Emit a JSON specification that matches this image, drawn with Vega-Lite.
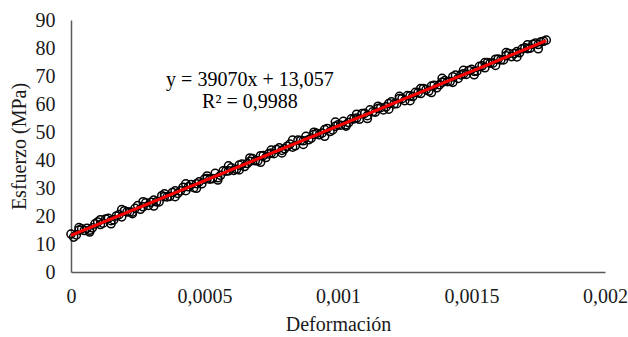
{
  "$schema": "https://vega.github.io/schema/vega-lite/v6.json",
  "autosize": {"type": "none"},
  "width": 534,
  "height": 252,
  "padding": {"left": 71, "top": 20, "right": 23, "bottom": 65},
  "background": "white",
  "config": {
    "view": {"stroke": null},
    "font": "Liberation Serif",
    "axis": {"grid": false, "ticks": false, "tickSize": 0, "labelOverlap": false, "domainColor": "#595959", "domainWidth": 1.5, "labelFont": "Liberation Serif", "labelFontSize": 20, "labelColor": "#1a1a1a", "titleFont": "Liberation Serif", "titleFontSize": 20, "titleFontWeight": "normal", "titleColor": "#1a1a1a"}
  },
  "datasets": {
    "pts": [
      {"x":0.00000,"y":13.56},{"x":0.00002,"y":13.24},{"x":0.00004,"y":15.42},{"x":0.00006,"y":15.60},{"x":0.00008,"y":15.78},
      {"x":0.00010,"y":17.86},{"x":0.00012,"y":17.45},{"x":0.00014,"y":19.13},{"x":0.00016,"y":18.61},{"x":0.00018,"y":20.49},
      {"x":0.00020,"y":21.87},{"x":0.00022,"y":21.45},{"x":0.00024,"y":22.73},{"x":0.00026,"y":22.41},{"x":0.00028,"y":24.69},
      {"x":0.00030,"y":24.88},{"x":0.00032,"y":25.06},{"x":0.00034,"y":27.24},{"x":0.00036,"y":26.82},{"x":0.00038,"y":28.40},
      {"x":0.00040,"y":28.08},{"x":0.00042,"y":30.26},{"x":0.00044,"y":30.45},{"x":0.00046,"y":30.13},{"x":0.00048,"y":32.21},
      {"x":0.00050,"y":33.19},{"x":0.00052,"y":33.17},{"x":0.00054,"y":35.25},{"x":0.00056,"y":34.54},{"x":0.00058,"y":36.02},
      {"x":0.00060,"y":37.20},{"x":0.00062,"y":36.68},{"x":0.00064,"y":38.56},{"x":0.00066,"y":38.74},{"x":0.00068,"y":40.52},
      {"x":0.00070,"y":39.71},{"x":0.00072,"y":41.59},{"x":0.00074,"y":42.17},{"x":0.00076,"y":42.25},{"x":0.00078,"y":44.33},
      {"x":0.00080,"y":44.01},{"x":0.00082,"y":45.69},{"x":0.00084,"y":45.08},{"x":0.00086,"y":46.96},{"x":0.00088,"y":48.44},
      {"x":0.00090,"y":47.82},{"x":0.00092,"y":49.50},{"x":0.00094,"y":49.58},{"x":0.00096,"y":51.26},{"x":0.00098,"y":50.75},
      {"x":0.00100,"y":52.53},{"x":0.00102,"y":53.81},{"x":0.00104,"y":53.39},{"x":0.00106,"y":54.67},{"x":0.00108,"y":54.55},
      {"x":0.00110,"y":56.63},{"x":0.00112,"y":57.92},{"x":0.00114,"y":57.10},{"x":0.00116,"y":58.68},{"x":0.00118,"y":58.96},
      {"x":0.00120,"y":60.74},{"x":0.00122,"y":60.12},{"x":0.00124,"y":61.90},{"x":0.00126,"y":62.99},{"x":0.00128,"y":62.67},
      {"x":0.00130,"y":64.05},{"x":0.00132,"y":65.53},{"x":0.00134,"y":64.61},{"x":0.00136,"y":66.69},{"x":0.00138,"y":66.87},
      {"x":0.00140,"y":68.36},{"x":0.00142,"y":68.04},{"x":0.00144,"y":70.32},{"x":0.00146,"y":70.40},{"x":0.00148,"y":70.58},
      {"x":0.00150,"y":72.36},{"x":0.00152,"y":71.74},{"x":0.00154,"y":73.63},{"x":0.00156,"y":74.81},{"x":0.00158,"y":74.59},
      {"x":0.00160,"y":76.07},{"x":0.00162,"y":75.75},{"x":0.00164,"y":78.03},{"x":0.00166,"y":78.01},{"x":0.00168,"y":78.30},
      {"x":0.00170,"y":80.08},{"x":0.00172,"y":79.96},{"x":0.00174,"y":81.74},{"x":0.00176,"y":82.22},{"x":0.00178,"y":82.80},
      {"x":0.00001,"y":12.46},{"x":0.00003,"y":14.94},{"x":0.00005,"y":14.82},{"x":0.00007,"y":14.90},{"x":0.00009,"y":17.18},
      {"x":0.00011,"y":16.96},{"x":0.00013,"y":18.95},{"x":0.00015,"y":18.33},{"x":0.00017,"y":20.01},{"x":0.00019,"y":19.69},
      {"x":0.00021,"y":21.47},{"x":0.00023,"y":21.35},{"x":0.00025,"y":23.73},{"x":0.00027,"y":23.31},{"x":0.00029,"y":23.79},
      {"x":0.00031,"y":25.68},{"x":0.00033,"y":25.06},{"x":0.00035,"y":26.94},{"x":0.00037,"y":27.02},{"x":0.00039,"y":29.00},
      {"x":0.00041,"y":28.98},{"x":0.00043,"y":29.06},{"x":0.00045,"y":31.25},{"x":0.00047,"y":31.53},{"x":0.00049,"y":31.51},
      {"x":0.00051,"y":33.39},{"x":0.00053,"y":33.37},{"x":0.00055,"y":33.65},{"x":0.00057,"y":36.14},{"x":0.00059,"y":36.12},
      {"x":0.00061,"y":36.30},{"x":0.00063,"y":38.18},{"x":0.00065,"y":37.66},{"x":0.00067,"y":39.54},{"x":0.00069,"y":39.72},
      {"x":0.00071,"y":41.51},{"x":0.00073,"y":40.89},{"x":0.00075,"y":42.47},{"x":0.00077,"y":43.75},{"x":0.00079,"y":43.43},
      {"x":0.00081,"y":44.91},{"x":0.00083,"y":44.59},{"x":0.00085,"y":47.08},{"x":0.00087,"y":46.86},{"x":0.00089,"y":47.24},
      {"x":0.00091,"y":49.12},{"x":0.00093,"y":49.00},{"x":0.00095,"y":50.88},{"x":0.00097,"y":50.16},{"x":0.00099,"y":52.05},
      {"x":0.00101,"y":52.43},{"x":0.00103,"y":52.61},{"x":0.00105,"y":54.69},{"x":0.00107,"y":54.97},{"x":0.00109,"y":56.55},
      {"x":0.00111,"y":55.83},{"x":0.00113,"y":57.22},{"x":0.00115,"y":58.40},{"x":0.00117,"y":57.88},{"x":0.00119,"y":60.16},
      {"x":0.00121,"y":60.04},{"x":0.00123,"y":61.92},{"x":0.00125,"y":61.20},{"x":0.00127,"y":62.89},{"x":0.00129,"y":64.17},
      {"x":0.00131,"y":63.75},{"x":0.00133,"y":65.13},{"x":0.00135,"y":66.41},{"x":0.00137,"y":65.79},{"x":0.00139,"y":67.77},
      {"x":0.00141,"y":67.96},{"x":0.00143,"y":69.74},{"x":0.00145,"y":69.12},{"x":0.00147,"y":70.80},{"x":0.00149,"y":71.98},
      {"x":0.00151,"y":71.66},{"x":0.00153,"y":73.44},{"x":0.00155,"y":72.93},{"x":0.00157,"y":74.61},{"x":0.00159,"y":75.99},
      {"x":0.00161,"y":75.77},{"x":0.00163,"y":77.25},{"x":0.00165,"y":76.93},{"x":0.00167,"y":78.71},{"x":0.00169,"y":79.70},
      {"x":0.00171,"y":79.78},{"x":0.00173,"y":81.36},{"x":0.00175,"y":81.24},{"x":0.00177,"y":82.42},
      {"x":0.00003,"y":15.83},{"x":0.00007,"y":14.29},{"x":0.00011,"y":18.66},{"x":0.00015,"y":17.22},{"x":0.00019,"y":22.28},
      {"x":0.00023,"y":20.84},{"x":0.00027,"y":25.11},{"x":0.00031,"y":23.57},{"x":0.00035,"y":27.93},{"x":0.00039,"y":26.89},
      {"x":0.00043,"y":31.46},{"x":0.00047,"y":29.92},{"x":0.00051,"y":34.28},{"x":0.00055,"y":32.85},{"x":0.00059,"y":37.91},
      {"x":0.00063,"y":36.47},{"x":0.00067,"y":40.73},{"x":0.00071,"y":39.20},{"x":0.00075,"y":43.56},{"x":0.00079,"y":42.52},
      {"x":0.00083,"y":47.09},{"x":0.00087,"y":45.55},{"x":0.00091,"y":49.91},{"x":0.00095,"y":48.47},{"x":0.00099,"y":53.54},
      {"x":0.00103,"y":52.10},{"x":0.00107,"y":56.36},{"x":0.00111,"y":54.82},{"x":0.00115,"y":59.19},{"x":0.00119,"y":58.15},
      {"x":0.00123,"y":62.71},{"x":0.00127,"y":61.18},{"x":0.00131,"y":65.54},{"x":0.00135,"y":64.10},{"x":0.00139,"y":69.16},
      {"x":0.00143,"y":67.73},{"x":0.00147,"y":71.99},{"x":0.00151,"y":70.45},{"x":0.00155,"y":74.81},{"x":0.00159,"y":73.78},
      {"x":0.00163,"y":78.34},{"x":0.00167,"y":76.80},{"x":0.00171,"y":81.17},{"x":0.00175,"y":79.73}
    ],
    "trend": [
      {"x": 0.0, "y": 13.057},
      {"x": 0.00178, "y": 82.6}
    ],
    "labels": [
      {"x": 0.00067, "y": 68.6, "text": "y = 39070x + 13,057"},
      {"x": 0.00067, "y": 60.6, "text": "R² = 0,9988"}
    ]
  },
  "encoding": {
    "x": {"field": "x", "type": "quantitative", "scale": {"domain": [0, 0.002], "nice": false, "zero": false},
          "axis": {"values": [0, 0.0005, 0.001, 0.0015, 0.002], "labelExpr": "replace(datum.value == 0 ? '0' : format(datum.value, '~g'), '.', ',')", "labelPadding": 14, "title": "Deformación", "titlePadding": 8, "labelFlush": false, "labelOverlap": false}},
    "y": {"field": "y", "type": "quantitative", "scale": {"domain": [0, 90], "nice": false},
          "axis": {"values": [0, 10, 20, 30, 40, 50, 60, 70, 80, 90], "tickCount": 10, "labelPadding": 16, "title": "Esfuerzo (MPa)", "titlePadding": 6, "labelOverlap": false, "labelFlush": false, "labelBound": false}}
  },
  "layer": [
    {
      "data": {"name": "pts"},
      "mark": {"type": "point", "shape": "circle", "filled": false, "stroke": "#000000", "strokeWidth": 1.5, "size": 66, "opacity": 1}
    },
    {
      "data": {"name": "trend"},
      "mark": {"type": "line", "color": "#FF0000", "strokeWidth": 3}
    },
    {
      "data": {"name": "labels"},
      "mark": {"type": "text", "font": "Liberation Serif", "fontSize": 20, "color": "#000000", "align": "center", "baseline": "middle"},
      "encoding": {
        "text": {"field": "text"}
      }
    }
  ]
}
